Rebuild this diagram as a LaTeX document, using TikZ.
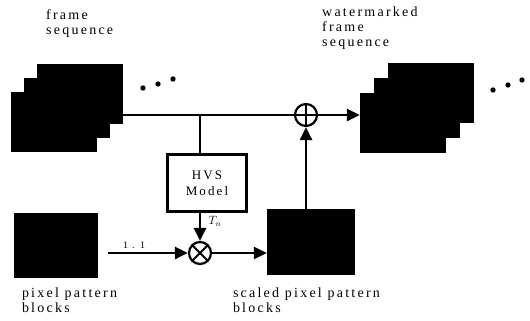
\documentclass[tikz,border=0pt]{standalone}
\usepackage{fontspec}
\setmainfont{Liberation Serif}[LetterSpace=16]
\usetikzlibrary{positioning,arrows.meta}

\begin{document}
\begin{tikzpicture}[
    x=1pt, y=-1pt,
    framebox/.style={fill=black, minimum width=86, minimum height=60, inner sep=0},
    block/.style={fill=black, inner sep=0},
    model/.style={draw, line width=2.2pt, minimum width=79, minimum height=57, align=center, font=\fontsize{13}{16}\selectfont},
    sumnode/.style={circle, draw, line width=2.2pt, minimum size=22, inner sep=0},
    plus/.style={path picture={\draw[line width=1.8pt] (path picture bounding box.north) -- (path picture bounding box.south) (path picture bounding box.west) -- (path picture bounding box.east);}},
    times/.style={path picture={\draw[line width=1.8pt] (path picture bounding box.north west) -- (path picture bounding box.south east) (path picture bounding box.south west) -- (path picture bounding box.north east);}},
    lbl/.style={font=\fontsize{14}{15}\selectfont, align=left, inner sep=0},
    line/.style={line width=2.8pt},
    arrow/.style={-{Triangle[length=13pt,width=12pt]}, line width=2.8pt},
]
\useasboundingbox (0,0) rectangle (530,321);

% frame stacks
\node[framebox] (frameC) at (80,94) {};
\node[framebox] (frameB) at (67,108) {};
\node[framebox] (frameA) at (54,122) {};
\node[framebox] (wmC) at (431,93) {};
\node[framebox] (wmB) at (417,108) {};
\node[framebox] (wmA) at (403,123) {};
\foreach \x/\y in {143/88, 158/84, 173/79, 493/90, 508/85, 522/80}
    \fill (\x,\y) circle (2.7);

\coordinate (split) at (200,115);
\node[sumnode, plus] (plus) at (306,115) {};
\node[model] (hvs) at (207,183) {HVS\\Model};
\node[sumnode, times] (times) at (200,253) {};
\node[block, minimum width=84, minimum height=65] (pattern) at (56,245) {};
\node[block, minimum width=88, minimum height=66] (scaled) at (311,242) {};

% labels
\node[lbl, anchor=north west] (inLabel) at (46,9) {frame\\sequence};
\node[lbl, anchor=north west] (outLabel) at (322,7) {watermarked\\frame\\sequence};
\node[lbl, below right=10pt and 8pt of pattern.south west] (patLabel) {pixel pattern\\blocks};
\node[lbl, below right=12pt and -34pt of scaled.south west] (scaledLabel) {scaled pixel pattern\\blocks};

\draw[line] (frameC.east |- split) -- (split) -- (plus);
\draw[arrow] (plus) -- (plus -| wmA.west);
\draw[line] (split) -- (split |- hvs.north);
\draw[arrow] (split |- hvs.south) -- node[right=4pt, pos=0.3, font=\large] {$T_n$} (times);
\draw[arrow, shorten <=10pt] (pattern.east |- times) -- node[above, pos=0.4, font=\normalsize] {1 . 1} (times);
\draw[arrow] (times) -- (times -| scaled.west);
\draw[arrow] (scaled.north -| plus) -- (plus);
\end{tikzpicture}
\end{document}
